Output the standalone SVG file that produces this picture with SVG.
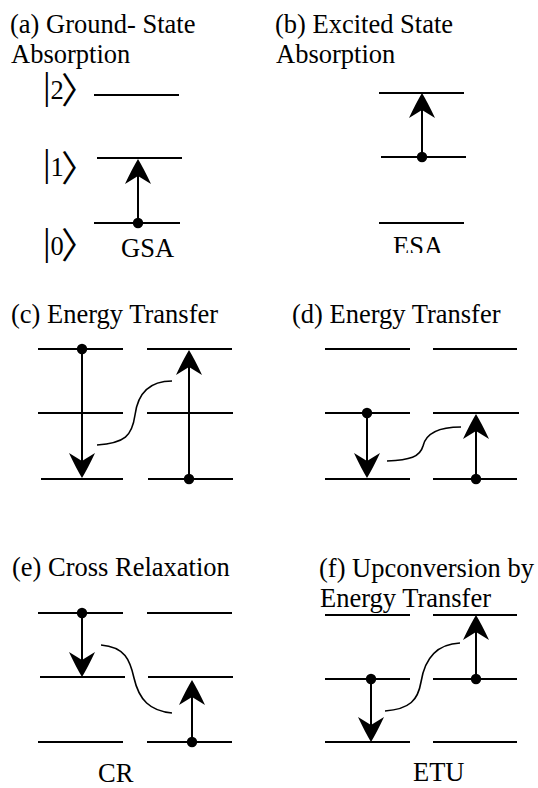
<svg xmlns="http://www.w3.org/2000/svg" width="538" height="788" viewBox="0 0 538 788" font-family="Liberation Serif, serif">
<style>
text{font-family:"Liberation Serif","Times New Roman",serif;font-size:26.5px;fill:#000}
.lv{stroke:#000;stroke-width:2;fill:none}
.ard{stroke:#000;stroke-width:2;fill:none;marker-end:url(#ah);marker-start:url(#dot)}
.wv{stroke:#000;stroke-width:1.6;fill:none}
.bar{font-size:38px}
.ket{font-family:"Noto Sans CJK JP",sans-serif;font-size:36px}
</style>
<defs>
<marker id="ah" markerUnits="userSpaceOnUse" markerWidth="40" markerHeight="40" viewBox="-30 -20 40 40" refX="-6" refY="0" orient="auto" overflow="visible">
<path d="M0,0 Q-10,-6 -25,-13 L-17,0 L-25,13 Q-10,6 0,0 Z" fill="#000"/>
</marker>
<marker id="dot" markerUnits="userSpaceOnUse" markerWidth="14" markerHeight="14" viewBox="-7 -7 14 14" refX="0" refY="0" overflow="visible">
<circle r="5.2" fill="#000"/>
</marker>
<clipPath id="clipESA"><rect x="380" y="225" width="80" height="28"/></clipPath>
</defs>

<g id="panel-a">
<text x="10" y="33">(a) Ground- State</text>
<text x="11" y="63">Absorption</text>
<text x="43" y="99"><tspan class="bar">|</tspan>2</text>
<text class="ket" x="61" y="104">〉</text>
<text x="43" y="176"><tspan class="bar">|</tspan>1</text>
<text class="ket" x="61" y="182">〉</text>
<text x="43" y="255"><tspan class="bar">|</tspan>0</text>
<text class="ket" x="61" y="259">〉</text>
<line class="lv" x1="94" y1="95" x2="179" y2="95"/>
<line class="lv" x1="97" y1="158" x2="182" y2="158"/>
<line class="lv" x1="94" y1="223" x2="180" y2="223"/>
<text x="121" y="257">GSA</text>
</g>

<g id="panel-b">
<text x="275" y="33">(b) Excited State</text>
<text x="276" y="63">Absorption</text>
<line class="lv" x1="379" y1="93" x2="464" y2="93"/>
<line class="lv" x1="381" y1="157" x2="466" y2="157"/>
<line class="lv" x1="379" y1="223" x2="464" y2="223"/>
<text x="393" y="255" clip-path="url(#clipESA)">ESA</text>
</g>

<g id="panel-c">
<text x="11" y="323">(c) Energy Transfer</text>
<line class="lv" x1="38" y1="349" x2="123" y2="349"/>
<line class="lv" x1="38" y1="413" x2="123" y2="413"/>
<line class="lv" x1="41" y1="479" x2="123" y2="479"/>
<line class="lv" x1="147" y1="349" x2="232" y2="349"/>
<line class="lv" x1="147" y1="413" x2="233" y2="413"/>
<line class="lv" x1="148" y1="479" x2="233" y2="479"/>
</g>

<g id="panel-d">
<text x="292" y="323">(d) Energy Transfer</text>
<line class="lv" x1="325" y1="349" x2="410" y2="349"/>
<line class="lv" x1="325" y1="413" x2="410" y2="413"/>
<line class="lv" x1="325" y1="479" x2="410" y2="479"/>
<line class="lv" x1="433" y1="349" x2="517" y2="349"/>
<line class="lv" x1="433" y1="413" x2="519" y2="413"/>
<line class="lv" x1="433" y1="479" x2="517" y2="479"/>
</g>

<g id="panel-e">
<text x="12" y="576">(e) Cross Relaxation</text>
<line class="lv" x1="38" y1="613" x2="123" y2="613"/>
<line class="lv" x1="40" y1="677" x2="125" y2="677"/>
<line class="lv" x1="38" y1="742" x2="123" y2="742"/>
<line class="lv" x1="147" y1="613" x2="232" y2="613"/>
<line class="lv" x1="148" y1="677" x2="233" y2="677"/>
<line class="lv" x1="147" y1="742" x2="232" y2="742"/>
<text x="98" y="782">CR</text>
</g>

<g id="panel-f">
<text x="319" y="577">(f) Upconversion by</text>
<text x="320" y="607">Energy Transfer</text>
<line class="lv" x1="325" y1="615" x2="410" y2="615"/>
<line class="lv" x1="325" y1="679" x2="410" y2="679"/>
<line class="lv" x1="325" y1="742" x2="410" y2="742"/>
<line class="lv" x1="433" y1="615" x2="517" y2="615"/>
<line class="lv" x1="433" y1="679" x2="517" y2="679"/>
<line class="lv" x1="433" y1="742" x2="517" y2="742"/>
<text x="413" y="781">ETU</text>
</g>

<g id="connectors">
<line class="ard" x1="138" y1="223" x2="138" y2="165"/>
<line class="ard" x1="422" y1="157" x2="422" y2="99"/>
<line class="ard" x1="82" y1="349" x2="82" y2="472"/>
<line class="ard" x1="189" y1="479" x2="189" y2="356"/>
<path class="wv" d="M97,445 C125,443 132,436 135,415 C138,392 150,381 172,381"/>
<line class="ard" x1="367" y1="413" x2="367" y2="472"/>
<line class="ard" x1="476" y1="479" x2="476" y2="420"/>
<path class="wv" d="M387,461 C410,460 420,457 423,446 C426,433 438,427 461,427"/>
<line class="ard" x1="82" y1="613" x2="82" y2="671"/>
<line class="ard" x1="192" y1="742" x2="192" y2="686"/>
<path class="wv" d="M101,645 C125,647 130,660 134,678 C139,700 150,711 172,713"/>
<line class="ard" x1="371" y1="679" x2="371" y2="736"/>
<line class="ard" x1="476" y1="679" x2="476" y2="621"/>
<path class="wv" d="M385,711 C410,709 418,700 421,682 C425,657 438,644 460,643"/>
</g>
</svg>
